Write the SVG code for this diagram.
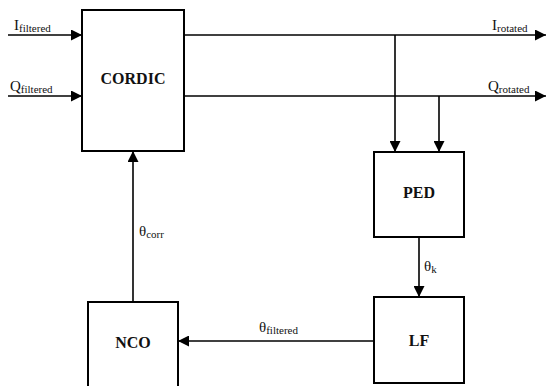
<svg xmlns="http://www.w3.org/2000/svg" width="546" height="386" viewBox="0 0 546 386">
  <style>
    .box { fill: #fff; stroke: #000; stroke-width: 2; }
    .blk { font-family: "Liberation Serif", "Times New Roman", Times, serif; font-weight: bold; font-size: 16px; text-anchor: middle; fill: #111; }
    .lbl { font-family: "Liberation Serif", "Times New Roman", Times, serif; font-size: 15px; fill: #111; }
    .sub { font-size: 11px; }
    .wire { stroke: #000; stroke-width: 1.6; fill: none; }
  </style>
  <defs>
    <marker id="arrow" viewBox="0 0 10 10" refX="10" refY="5" markerWidth="13" markerHeight="11" markerUnits="userSpaceOnUse" orient="auto">
      <path d="M0,0 L10,5 L0,10 Z" fill="#000"/>
    </marker>
  </defs>
  <rect width="546" height="386" fill="#fff"/>

  <g id="connectors">
    <line class="wire" x1="8" y1="35" x2="82" y2="35" marker-end="url(#arrow)"/>
    <line class="wire" x1="8" y1="96" x2="82" y2="96" marker-end="url(#arrow)"/>
    <line class="wire" x1="184" y1="35" x2="546" y2="35" marker-end="url(#arrow)"/>
    <line class="wire" x1="184" y1="96" x2="546" y2="96" marker-end="url(#arrow)"/>
    <line class="wire" x1="395" y1="35" x2="395" y2="152" marker-end="url(#arrow)"/>
    <line class="wire" x1="439" y1="96" x2="439" y2="152" marker-end="url(#arrow)"/>
    <line class="wire" x1="419" y1="237" x2="419" y2="297" marker-end="url(#arrow)"/>
    <line class="wire" x1="374" y1="341" x2="178" y2="341" marker-end="url(#arrow)"/>
    <line class="wire" x1="133" y1="302" x2="133" y2="151" marker-end="url(#arrow)"/>
  </g>

  <g id="labels">
    <text class="lbl" x="14" y="30">I<tspan class="sub" dy="2">filtered</tspan></text>
    <text class="lbl" x="10" y="91">Q<tspan class="sub" dy="2">filtered</tspan></text>
    <text class="lbl" x="492" y="30">I<tspan class="sub" dy="2">rotated</tspan></text>
    <text class="lbl" x="488" y="91">Q<tspan class="sub" dy="2">rotated</tspan></text>
    <text class="lbl" x="424" y="271">θ<tspan class="sub" dy="2">k</tspan></text>
    <text class="lbl" x="139" y="236">θ<tspan class="sub" dy="2">corr</tspan></text>
    <text class="lbl" x="259" y="332">θ<tspan class="sub" dy="2">filtered</tspan></text>
  </g>

  <g id="cordic">
    <rect class="box" x="82" y="10" width="102" height="141"/>
    <text class="blk" x="133" y="84">CORDIC</text>
  </g>
  <g id="ped">
    <rect class="box" x="374" y="152" width="90" height="85"/>
    <text class="blk" x="419" y="198">PED</text>
  </g>
  <g id="lf">
    <rect class="box" x="374" y="297" width="90" height="86"/>
    <text class="blk" x="419" y="346">LF</text>
  </g>
  <g id="nco">
    <rect class="box" x="88" y="302" width="90" height="86"/>
    <text class="blk" x="133" y="348">NCO</text>
  </g>
</svg>
